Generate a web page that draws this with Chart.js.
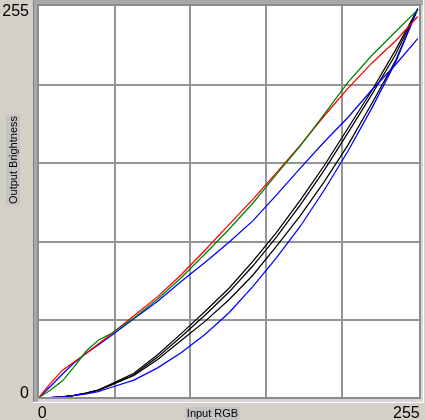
<!DOCTYPE html>
<html>
<head>
<meta charset="utf-8">
<title>Curves</title>
<script src="https://cdn.jsdelivr.net/npm/chart.js@4.4.1/dist/chart.umd.min.js"></script>
<style>
  html, body { margin: 0; padding: 0; background: #d4d0c8; }
  #curves { display: block; }
</style>
</head>
<body>
<canvas id="curves" width="425" height="420"></canvas>
<script>
// input levels (x) shared by every curve
const inputLevels = [0, 8, 16, 24, 32, 40, 48, 64, 80, 96, 112, 128, 144, 160, 176, 192, 208, 224, 240, 255];

// output brightness per curve
const redOut       = [0, 9.5, 18, 23.5, 29, 35, 41, 53.5, 66, 80.5, 96.5, 113, 129.5, 147, 165, 184, 202, 218.5, 233, 249];
const greenOut     = [0, 5, 11, 20.5, 30.5, 37.5, 41.5, 52, 64.5, 78.5, 94, 110, 127, 146, 164.5, 185, 206, 223.5, 239, 253.5];
const blueUpperOut = [0, 7.5, 15.5, 23, 29, 34.5, 40, 51.5, 63, 76, 88.5, 101.5, 115.5, 132.5, 150, 167, 183, 201, 217.5, 234.5];
const blackAOut    = [0, 0, 0.5, 1.5, 3, 5, 8.5, 16, 28, 42, 56.5, 71.5, 89, 108, 129, 151.5, 176, 200.5, 227, 254];
const blackBOut    = [0, 0, 0.5, 1.5, 3, 5, 8, 15, 26.5, 40, 54, 69, 86, 105, 126, 148.5, 173, 198, 224, 254];
const blackCOut    = [0, 0, 0.5, 1.5, 3, 5, 8, 14.5, 25, 37.5, 50, 64, 80, 99, 119, 141, 165, 192, 220, 254];
const blueLowerOut = [0, 0, 0.5, 1.5, 2.5, 4, 6.5, 11.5, 19.5, 29.5, 41.5, 55.5, 72.5, 91.5, 112, 135.5, 161, 189, 219, 254];

// grid lines and corner labels
const gridTicks = [51, 102, 153, 204];
const cornerLabels = [0, 255];
const xTitle = 'Input RGB';
const yTitle = 'Output Brightness';

function toPoints(values) {
    return inputLevels.map(function (x, i) { return { x: x, y: values[i] }; });
}

function curve(values, color) {
    return {
        data: toPoints(values),
        borderColor: color,
        borderWidth: 1.25,
        pointRadius: 0,
        showLine: true,
        tension: 0
    };
}

// ------------------------------------------------------------
// sunken panel, plot border, corner numbers and axis captions
// ------------------------------------------------------------
const panelFrame = {
    id: 'panelFrame',
    beforeDraw: function (chart) {
        const ctx = chart.ctx;
        const a = chart.chartArea;
        ctx.save();
        ctx.fillStyle = '#d4d0c8';
        ctx.fillRect(0, 0, chart.width, chart.height);

        // light bottom/right edge of the well
        ctx.fillStyle = '#ffffff';
        ctx.fillRect(a.left - 5, 0, a.right - a.left + 9, a.bottom + 5);
        ctx.fillStyle = '#d8d8d8';
        ctx.fillRect(a.left - 5, 0, a.right - a.left + 8, a.bottom + 4);
        // dark top/left edge
        ctx.fillStyle = '#a8a8a8';
        ctx.fillRect(a.left - 5, 0, 5, a.bottom + 4);
        ctx.fillRect(a.left - 5, 0, a.right - a.left + 8, a.top);
        ctx.fillStyle = '#808080';
        ctx.fillRect(a.left - 5, 0, 1, a.bottom + 4);

        ctx.fillStyle = '#ffffff';
        ctx.fillRect(a.left, a.top, a.right - a.left, a.bottom - a.top);
        ctx.restore();
    },
    afterDraw: function (chart) {
        const ctx = chart.ctx;
        const a = chart.chartArea;
        const xs = chart.scales.x;
        const ys = chart.scales.y;
        ctx.save();
        ctx.strokeStyle = '#8c8c8c';
        ctx.lineWidth = 2;
        ctx.strokeRect(a.left, a.top, a.right - a.left, a.bottom - a.top);

        // corner numbers
        ctx.fillStyle = '#000000';
        ctx.font = '16px "Liberation Sans", Arial, sans-serif';
        ctx.textBaseline = 'alphabetic';
        ctx.textAlign = 'right';
        ctx.fillText(String(cornerLabels[1]), 29, ys.getPixelForValue(cornerLabels[1]) + 9);
        ctx.fillText(String(cornerLabels[0]), 29, ys.getPixelForValue(cornerLabels[0]));
        ctx.textAlign = 'left';
        ctx.fillText(String(cornerLabels[0]), xs.getPixelForValue(cornerLabels[0]) - 1, 417.5);
        ctx.textAlign = 'right';
        ctx.fillText(String(cornerLabels[1]), xs.getPixelForValue(cornerLabels[1]) + 2, 417.5);

        // axis captions on grey tabs
        ctx.font = '11px "Liberation Sans", Arial, sans-serif';
        ctx.textAlign = 'center';
        let w = ctx.measureText(xTitle).width + 3;
        let cx = chart.width / 2;
        ctx.fillStyle = '#c4c4c4';
        ctx.fillRect(cx - w / 2, 407, w, 13);
        ctx.fillStyle = '#000000';
        ctx.fillText(xTitle, cx, 416.5);

        w = ctx.measureText(yTitle).width + 3;
        ctx.translate(17, 160);
        ctx.rotate(-Math.PI / 2);
        ctx.fillStyle = '#c4c4c4';
        ctx.fillRect(-w / 2, -11, w, 14);
        ctx.fillStyle = '#000000';
        ctx.fillText(yTitle, 0, 0);
        ctx.restore();
    }
};

function gridScale(min, max) {
    return {
        type: 'linear',
        min: min,
        max: max,
        afterBuildTicks: function (scale) {
            scale.ticks = gridTicks.map(function (v) { return { value: v }; });
        },
        ticks: { display: false },
        grid: { color: '#959595', lineWidth: 2, drawTicks: false },
        border: { display: false }
    };
}

const xScale = gridScale(-0.5, 256.5);
xScale.afterFit = function (scale) { scale.height = 22; };
const yScale = gridScale(-0.2, 256.5);
yScale.afterFit = function (scale) { scale.width = 38; };

new Chart(document.getElementById('curves'), {
    type: 'scatter',
    data: {
        datasets: [
            curve(greenOut, '#008000'),
            curve(redOut, '#ff0000'),
            curve(blueLowerOut, '#0000ff'),
            curve(blueUpperOut, '#0000ff'),
            curve(blackAOut, '#000000'),
            curve(blackBOut, '#000000'),
            curve(blackCOut, '#000000')
        ]
    },
    options: {
        responsive: false,
        animation: false,
        layout: { padding: { top: 5, right: 5, left: 0, bottom: 0 } },
        plugins: {
            legend: { display: false },
            tooltip: { enabled: false }
        },
        scales: { x: xScale, y: yScale }
    },
    plugins: [panelFrame]
});
</script>
</body>
</html>
